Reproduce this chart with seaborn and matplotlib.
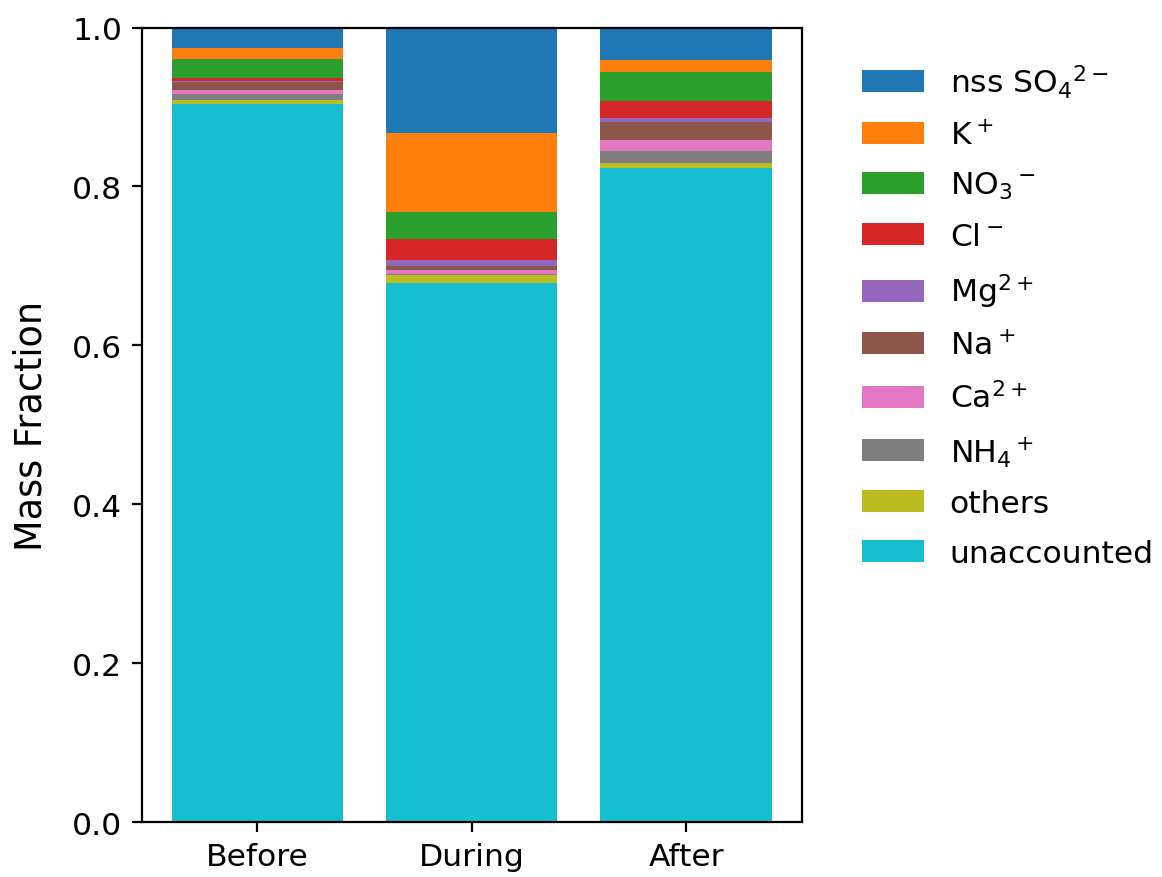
import numpy as np
import pandas as pd
import matplotlib
matplotlib.use("Agg")
import matplotlib.pyplot as plt
import seaborn as sns

# Periods sampled
periods = ["Before", "During", "After"]

# Species (top of stack first) and their mass fractions per period
species = [r"nss SO$_4$$^{2-}$", r"K$^+$", r"NO$_3$$^-$", r"Cl$^-$", r"Mg$^{2+}$",
           r"Na$^+$", r"Ca$^{2+}$", r"NH$_4$$^+$", "others", "unaccounted"]

nss_so4 = [0.026, 0.133, 0.041]
k_ion = [0.014, 0.099, 0.015]
no3 = [0.023, 0.034, 0.036]
cl = [0.004, 0.027, 0.022]
mg = [0.002, 0.007, 0.005]
na = [0.010, 0.005, 0.022]
ca = [0.005, 0.005, 0.015]
nh4 = [0.007, 0.002, 0.014]
others = [0.005, 0.010, 0.007]
unaccounted = [0.904, 0.678, 0.823]

series = [nss_so4, k_ion, no3, cl, mg, na, ca, nh4, others, unaccounted]
colors = sns.color_palette("tab10", 10)

plt.rcParams["font.size"] = 11.3

# Stack from the bottom (unaccounted) upward; draw tallest cumulative first
arr = np.array(series)
cum_from_bottom = np.cumsum(arr[::-1], axis=0)[::-1]  # row i = total of species i..end

fig = plt.figure(figsize=(5.81, 4.39), dpi=200)
ax = fig.add_axes([0.122, 0.0625, 0.568, 0.905])

for i, name in enumerate(species):
    df = pd.DataFrame({"period": periods, "value": cum_from_bottom[i]})
    sns.barplot(data=df, x="period", y="value", color=colors[i], label=name,
                saturation=1, width=0.8, ax=ax, errorbar=None)

ax.set_xlim(-0.54, 2.54)
ax.set_ylim(0, 1)
ax.set_xlabel("")
ax.set_ylabel("Mass Fraction", fontsize=13.2, labelpad=8)
ax.legend(loc="upper left", bbox_to_anchor=(1.048, 0.992), frameon=False,
          labelspacing=0.66)

fig.savefig("out.png", dpi=200)
